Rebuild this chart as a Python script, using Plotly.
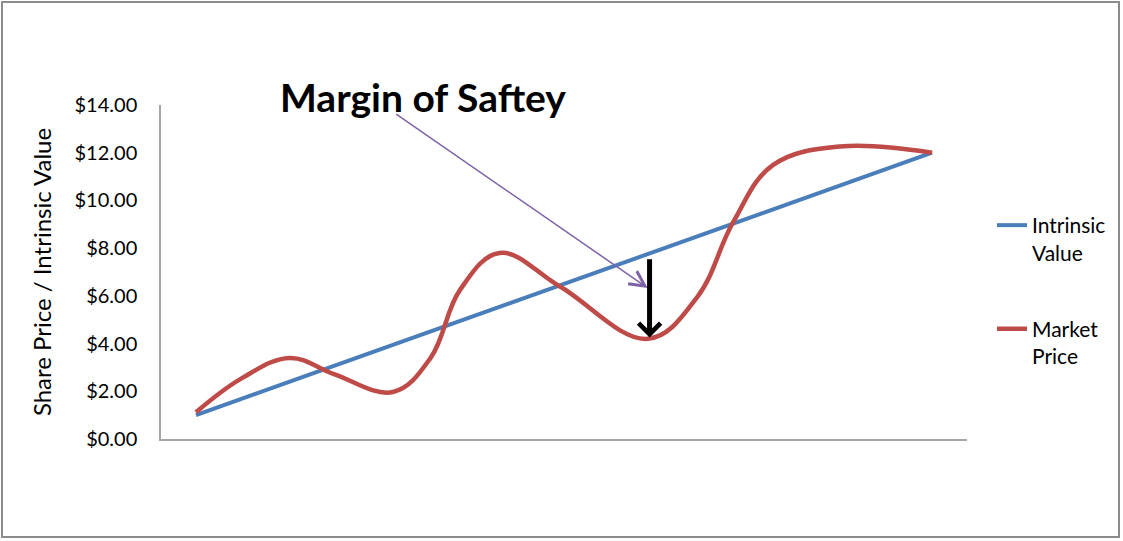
import plotly.graph_objects as go

# ---- data ----
periods = [0, 1, 2, 3, 4, 5, 6, 7, 8]
intrinsic_value = [1.0, 2.375, 3.75, 5.125, 6.5, 7.875, 9.25, 10.625, 12.0]

market_x = [0.0, 0.5, 1.02, 1.5, 2.14, 2.55, 2.87, 3.30, 3.96, 4.91,
            5.45, 5.84, 6.27, 7.0, 8.0]
market_price = [1.12, 2.55, 3.4, 2.72, 1.97, 3.4, 6.25, 7.8, 6.38, 4.2,
                5.96, 9.1, 11.48, 12.26, 12.0]

series_names = ["Intrinsic<br>Value", "Market<br>Price"]
y_ticks = [0, 2, 4, 6, 8, 10, 12, 14]

W, H = 1123, 541
L, R, T, B = 161, 156, 105, 102
FONT = "Lato"

fig = go.Figure()
fig.add_trace(go.Scatter(x=periods, y=intrinsic_value, mode="lines", name=series_names[0],
                         line=dict(color="#4A7EBB", width=4), legendgroup="a"))
fig.add_trace(go.Scatter(x=market_x, y=market_price, mode="lines", name=series_names[1],
                         line=dict(color="#BE4B48", width=4.5, shape="spline", smoothing=1.1),
                         legendgroup="b"))

pw = W - L - R
ph = H - T - B
def px2paper_x(px):
    return (px - L) / pw
def px2paper_y(py):
    return (H - B - py) / ph

fig.update_layout(
    width=W, height=H,
    margin=dict(l=L, r=R, t=T, b=B),
    paper_bgcolor="white", plot_bgcolor="white",
    font=dict(family=FONT, color="#000000"),
    xaxis=dict(range=[-0.38, 8.38], showgrid=False, zeroline=False, showticklabels=False,
               ticks="", showline=True, linecolor="#A6A6A6", linewidth=1.5),
    yaxis=dict(range=[0, 14], tickvals=y_ticks, tickformat="$.2f", showgrid=False,
               zeroline=False, showline=True, linecolor="#A6A6A6", linewidth=1.5,
               ticks="", ticklabelstandoff=18, tickfont=dict(size=20, family=FONT),
               title=dict(text="Share Price / Intrinsic Value", font=dict(size=24, family=FONT),
                          standoff=16)),
    showlegend=True,
    legend=dict(x=px2paper_x(992), y=px2paper_y(205), xanchor="left", yanchor="top",
                font=dict(size=21, family=FONT), tracegroupgap=46, traceorder="grouped",
                valign="top", bgcolor="rgba(0,0,0,0)"),
    shapes=[dict(type="rect", xref="paper", yref="paper",
                 x0=px2paper_x(2), x1=px2paper_x(1119), y0=px2paper_y(537), y1=px2paper_y(2),
                 line=dict(color="#8C8C8C", width=2), fillcolor="rgba(0,0,0,0)")],
    annotations=[
        dict(text="<b>Margin of Saftey</b>", xref="paper", yref="paper",
             x=px2paper_x(423), y=px2paper_y(97), xanchor="center", yanchor="middle",
             showarrow=False, font=dict(size=39, family=FONT, color="#000000")),
        dict(x=4.91, y=6.33, ax=2.16, ay=13.66, xref="x", yref="y", axref="x", ayref="y",
             text="", showarrow=True, arrowhead=5, arrowsize=2, arrowwidth=1.5,
             arrowcolor="#7E62A8"),
        dict(x=4.93, y=4.25, ax=4.93, ay=7.6, xref="x", yref="y", axref="x", ayref="y",
             text="", showarrow=True, arrowhead=4, arrowsize=0.85, arrowwidth=5,
             arrowcolor="#000000"),
    ],
)

fig.write_html("out.html", config={"displayModeBar": False},
               post_script="document.body.style.margin='0px';")
